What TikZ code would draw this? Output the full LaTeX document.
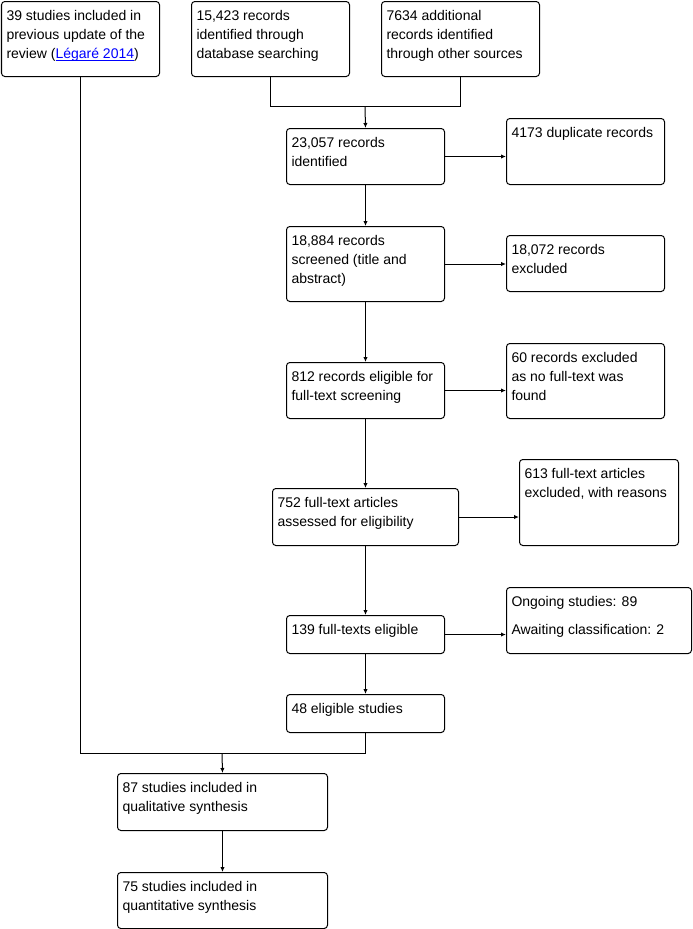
\documentclass[tikz,border=0pt]{standalone}
\usepackage{fontspec}
\setmainfont{Liberation Sans}
\usetikzlibrary{arrows.meta}
\newdimen\pxu \pxu=0.75pt
\definecolor{linkblue}{RGB}{0,0,255}
\tikzset{
  fbox/.style={draw=black, line width=0.75pt, rounded corners=2.5pt, inner xsep=3.75pt, inner ysep=0pt, anchor=north west},
  conn/.style={draw=black, line width=0.75pt},
  arr/.style={conn, -{Latex[length=3.75pt,width=3.2pt]}}
}
\newcommand\flowbox[6]{%
  \node[fbox, minimum width={#4*0.75pt}, minimum height={#5*0.75pt}] (#1) at (#2,#3)
    {\parbox[c][#5\pxu][t]{\dimexpr#4\pxu-10\pxu\relax}{\raggedright\vspace*{4.275pt}\strut #6}};}
\begin{document}
\begin{tikzpicture}[x=0.75pt, y=-0.75pt, font=\fontsize{10.5pt}{14.25pt}\selectfont]
\useasboundingbox (0,0) rectangle (693,929);
\flowbox{b1}{1}{1}{158}{75}{39 studies included in\\previous update of the\\review (\textcolor{linkblue}{\underline{\smash{Légaré 2014}}})}
\flowbox{b2}{191}{1}{158}{75}{15,423 records\\identified through\\database searching}
\flowbox{b3}{381}{1}{158}{75}{7634 additional\\records identified\\through other sources}
\flowbox{b4}{286}{128}{158}{56}{23,057 records\\identified}
\flowbox{b5}{506}{118}{158}{66}{4173 duplicate records}
\flowbox{b6}{286}{226}{158}{75}{18,884 records\\screened (title and\\abstract)}
\flowbox{b7}{506}{235}{158}{56}{18,072 records\\excluded}
\flowbox{b8}{286}{362}{158}{56}{812 records eligible for\\full-text screening}
\flowbox{b9}{506}{343}{158}{75}{60 records excluded\\as no full-text was\\found}
\flowbox{b10}{272}{488}{186}{57}{752 full-text articles\\assessed for eligibility}
\flowbox{b11}{519}{459}{159}{86}{613 full-text articles\\excluded, with reasons}
\flowbox{b12}{286}{615}{158}{38}{139 full-texts eligible}
\flowbox{b13}{506}{587}{185}{66}{Ongoing studies: 89\\[6.75pt]Awaiting classification: 2}
\flowbox{b14}{286}{694}{158}{38}{48 eligible studies}
\flowbox{b15}{117}{773}{210}{57}{87 studies included in\\qualitative synthesis}
\flowbox{b16}{117}{872}{210}{56}{75 studies included in\\quantitative synthesis}
\coordinate (j1) at (365,106.5);
\coordinate (j2) at (222,753.5);
\draw[conn] (b2.south) -- (b2.south |- j1) -- (b3.south |- j1) -- (b3.south);
\draw[arr] (j1) -- (b4.north);
\draw[arr] (b4.east) -- (b4.east -| b5.west);
\draw[arr] (b4.south) -- (b6.north);
\draw[arr] (b6.east) -- (b6.east -| b7.west);
\draw[arr] (b6.south) -- (b8.north);
\draw[arr] (b8.east) -- (b8.east -| b9.west);
\draw[arr] (b8.south) -- (b8.south |- b10.north);
\draw[arr] (b10.east) -- (b10.east -| b11.west);
\draw[arr] (b10.south -| b12.north) -- (b12.north);
\draw[arr] (b12.east) -- (b12.east -| b13.west);
\draw[arr] (b12.south) -- (b14.north);
\draw[conn] (b14.south) -- (b14.south |- j2) -- (b1.south |- j2) -- (b1.south);
\draw[arr] (j2) -- (b15.north);
\draw[arr] (b15.south) -- (b16.north);
\end{tikzpicture}
\end{document}
